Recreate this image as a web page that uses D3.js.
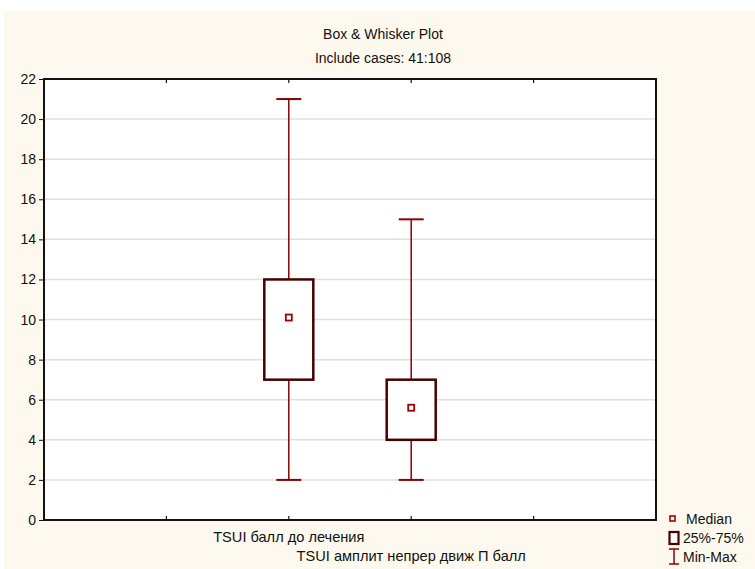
<!DOCTYPE html>
<html lang="en">
  <head>
    <meta charset="utf-8">
    <title>Box & Whisker Plot</title>
    <script src="https://d3js.org/d3.v7.min.js"></script>
    <style>
      body { margin: 0; background: white; }
      text { font-family: "Liberation Sans Narrow", "Arial Narrow", "Liberation Sans", Arial, sans-serif; fill: #111; }
    </style>
  </head>
  <body>
    <script>
      var w = 755, h = 569;
      var margin = {top: 79, right: 99, bottom: 49, left: 44};
      var innerW = w - margin.left - margin.right;
      var innerH = h - margin.top - margin.bottom;

      // data
      var categories = ["TSUI балл до лечения", "TSUI амплит непрер движ П балл"];
      var catPos = [2, 3];
      var mins = [2, 2];
      var q1 = [7, 4];
      var medians = [10.1, 5.6];
      var q3 = [12, 7];
      var maxs = [21, 15];
      var yTicks = [0, 2, 4, 6, 8, 10, 12, 14, 16, 18, 20, 22];
      var xTicks = [1, 2, 3, 4];

      var boxes = categories.map(function(c, i) {
        return {name: c, pos: catPos[i], min: mins[i], q1: q1[i], med: medians[i], q3: q3[i], max: maxs[i]};
      });

      var svg = d3.select("body").append("svg")
        .attr("width", w).attr("height", h);

      svg.append("rect")
        .attr("x", 4).attr("y", 11)
        .attr("width", w - 4).attr("height", h - 11)
        .attr("fill", "#fdf9ee");

      svg.append("text").attr("x", 383).attr("y", 39)
        .attr("text-anchor", "middle").attr("font-size", 14)
        .text("Box & Whisker Plot");
      svg.append("text").attr("x", 383).attr("y", 63)
        .attr("text-anchor", "middle").attr("font-size", 14)
        .text("Include cases: 41:108");

      var xScale = d3.scaleLinear().domain([0, 5]).range([0, innerW]);
      var yScale = d3.scaleLinear().domain([0, 22]).range([innerH, 0]);

      var g = svg.append("g")
        .attr("transform", `translate(${margin.left}, ${margin.top})`);

      g.append("rect")
        .attr("width", innerW).attr("height", innerH)
        .attr("fill", "white");

      // gridlines
      g.selectAll("line.grid")
        .data(yTicks.filter(function(d) { return d > 0 && d < 22; }))
        .enter().append("line")
        .attr("class", "grid")
        .attr("x1", 0).attr("x2", innerW)
        .attr("y1", function(d) { return yScale(d); })
        .attr("y2", function(d) { return yScale(d); })
        .attr("stroke", "#e0e0e0").attr("stroke-width", 1.5);

      // y axis
      var yAxis = d3.axisLeft(yScale).tickValues(yTicks).tickSize(5).tickPadding(3);
      var ya = g.append("g").call(yAxis);
      ya.select(".domain").remove();
      ya.selectAll("text").attr("font-size", 14).style("font-family", "'Liberation Sans', Arial, sans-serif");
      ya.selectAll("line").attr("stroke", "#111");

      // x ticks (inside, top and bottom)
      g.selectAll("line.xtb")
        .data(xTicks).enter().append("line")
        .attr("x1", function(d) { return xScale(d); })
        .attr("x2", function(d) { return xScale(d); })
        .attr("y1", innerH).attr("y2", innerH - 4)
        .attr("stroke", "#111").attr("stroke-width", 1.2);
      g.selectAll("line.xtt")
        .data(xTicks).enter().append("line")
        .attr("x1", function(d) { return xScale(d); })
        .attr("x2", function(d) { return xScale(d); })
        .attr("y1", 0).attr("y2", 4)
        .attr("stroke", "#111").attr("stroke-width", 1.2);

      // category labels (staggered)
      g.selectAll("text.cat")
        .data(boxes).enter().append("text")
        .attr("class", "cat")
        .attr("x", function(d) { return xScale(d.pos); })
        .attr("y", function(d, i) { return innerH + 22 + i * 19; })
        .attr("text-anchor", "middle").attr("font-size", 14.6)
        .text(function(d) { return d.name; });

      // whiskers
      var bw = 49, cap = 25;
      var bx = g.selectAll("g.box").data(boxes).enter().append("g").attr("class", "box");
      bx.append("line")
        .attr("x1", function(d) { return xScale(d.pos); })
        .attr("x2", function(d) { return xScale(d.pos); })
        .attr("y1", function(d) { return yScale(d.min); })
        .attr("y2", function(d) { return yScale(d.max); })
        .attr("stroke", "#8b0000").attr("stroke-width", 1.5);
      ["min", "max"].forEach(function(k) {
        bx.append("line")
          .attr("x1", function(d) { return xScale(d.pos) - cap / 2; })
          .attr("x2", function(d) { return xScale(d.pos) + cap / 2; })
          .attr("y1", function(d) { return yScale(d[k]); })
          .attr("y2", function(d) { return yScale(d[k]); })
          .attr("stroke", "#8b0000").attr("stroke-width", 2);
      });
      bx.append("rect")
        .attr("x", function(d) { return xScale(d.pos) - bw / 2; })
        .attr("y", function(d) { return yScale(d.q3); })
        .attr("width", bw)
        .attr("height", function(d) { return yScale(d.q1) - yScale(d.q3); })
        .attr("fill", "white").attr("stroke", "#4a0000").attr("stroke-width", 2.5);
      bx.append("rect")
        .attr("x", function(d) { return xScale(d.pos) - 3; })
        .attr("y", function(d) { return yScale(d.med) - 3; })
        .attr("width", 6).attr("height", 6)
        .attr("fill", "white").attr("stroke", "#a00000").attr("stroke-width", 1.8);

      // frame
      g.append("rect")
        .attr("width", innerW).attr("height", innerH)
        .attr("fill", "none").attr("stroke", "#111").attr("stroke-width", 2);

      // legend
      var lg = svg.append("g").attr("transform", "translate(668, 0)");
      lg.append("rect").attr("x", 2).attr("y", 516).attr("width", 5).attr("height", 5)
        .attr("fill", "white").attr("stroke", "#a00000").attr("stroke-width", 1.6);
      lg.append("text").attr("x", 18).attr("y", 524).attr("font-size", 14)
        .style("font-family", "'Liberation Sans', Arial, sans-serif").text("Median");
      lg.append("rect").attr("x", 1.5).attr("y", 532).attr("width", 9).attr("height", 12)
        .attr("fill", "white").attr("stroke", "#4a0000").attr("stroke-width", 2.2);
      lg.append("text").attr("x", 15).attr("y", 543).attr("font-size", 14)
        .style("font-family", "'Liberation Sans', Arial, sans-serif").text("25%-75%");
      lg.append("line").attr("x1", 6).attr("x2", 6).attr("y1", 549).attr("y2", 564)
        .attr("stroke", "#8b0000").attr("stroke-width", 1.5);
      lg.append("line").attr("x1", 1).attr("x2", 11).attr("y1", 549).attr("y2", 549)
        .attr("stroke", "#8b0000").attr("stroke-width", 1.5);
      lg.append("line").attr("x1", 1).attr("x2", 11).attr("y1", 564).attr("y2", 564)
        .attr("stroke", "#8b0000").attr("stroke-width", 1.5);
      lg.append("text").attr("x", 15).attr("y", 562).attr("font-size", 14)
        .style("font-family", "'Liberation Sans', Arial, sans-serif").text("Min-Max");
    </script>
  </body>
</html>
